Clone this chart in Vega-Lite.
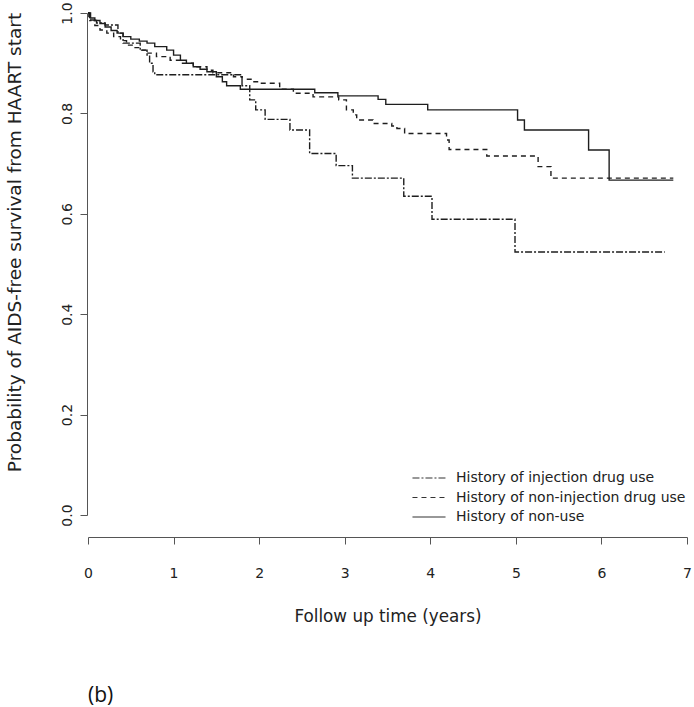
{
  "$schema": "https://vega.github.io/schema/vega-lite/v6.json",
  "width": 599,
  "height": 502,
  "autosize": "none",
  "padding": {"left": 88, "top": 13, "right": 7, "bottom": 192},
  "background": "white",
  "config": {"view": {"stroke": null}, "font": "DejaVu Sans"},
  "title": {"text": "(b)", "orient": "bottom", "anchor": "start", "frame": "group", "offset": 60, "fontSize": 21, "fontWeight": "normal", "font": "Open Sans", "color": "#111"},
  "data": {"values": [
    {"group": "History of injection drug use", "time": 0, "surv": 1.0},
    {"group": "History of injection drug use", "time": 0.02, "surv": 0.985},
    {"group": "History of injection drug use", "time": 0.1, "surv": 0.98},
    {"group": "History of injection drug use", "time": 0.2, "surv": 0.976},
    {"group": "History of injection drug use", "time": 0.35, "surv": 0.96},
    {"group": "History of injection drug use", "time": 0.41, "surv": 0.94},
    {"group": "History of injection drug use", "time": 0.61, "surv": 0.926},
    {"group": "History of injection drug use", "time": 0.69, "surv": 0.916},
    {"group": "History of injection drug use", "time": 0.72, "surv": 0.9},
    {"group": "History of injection drug use", "time": 0.76, "surv": 0.883},
    {"group": "History of injection drug use", "time": 0.78, "surv": 0.877},
    {"group": "History of injection drug use", "time": 1.8, "surv": 0.855},
    {"group": "History of injection drug use", "time": 1.89, "surv": 0.827},
    {"group": "History of injection drug use", "time": 1.96, "surv": 0.807},
    {"group": "History of injection drug use", "time": 2.07, "surv": 0.788},
    {"group": "History of injection drug use", "time": 2.36, "surv": 0.767},
    {"group": "History of injection drug use", "time": 2.59, "surv": 0.72},
    {"group": "History of injection drug use", "time": 2.9, "surv": 0.696},
    {"group": "History of injection drug use", "time": 3.09, "surv": 0.671},
    {"group": "History of injection drug use", "time": 3.69, "surv": 0.635},
    {"group": "History of injection drug use", "time": 4.02, "surv": 0.589},
    {"group": "History of injection drug use", "time": 4.99, "surv": 0.524},
    {"group": "History of injection drug use", "time": 6.74, "surv": 0.524},
    {"group": "History of non-injection drug use", "time": 0, "surv": 1.0},
    {"group": "History of non-injection drug use", "time": 0.01, "surv": 0.986},
    {"group": "History of non-injection drug use", "time": 0.08, "surv": 0.975},
    {"group": "History of non-injection drug use", "time": 0.14, "surv": 0.966},
    {"group": "History of non-injection drug use", "time": 0.22, "surv": 0.96},
    {"group": "History of non-injection drug use", "time": 0.3, "surv": 0.953},
    {"group": "History of non-injection drug use", "time": 0.38, "surv": 0.945},
    {"group": "History of non-injection drug use", "time": 0.45, "surv": 0.936},
    {"group": "History of non-injection drug use", "time": 0.53, "surv": 0.931},
    {"group": "History of non-injection drug use", "time": 0.61, "surv": 0.926},
    {"group": "History of non-injection drug use", "time": 0.69, "surv": 0.92},
    {"group": "History of non-injection drug use", "time": 0.8, "surv": 0.913},
    {"group": "History of non-injection drug use", "time": 0.96, "surv": 0.906},
    {"group": "History of non-injection drug use", "time": 1.08, "surv": 0.9},
    {"group": "History of non-injection drug use", "time": 1.23, "surv": 0.893},
    {"group": "History of non-injection drug use", "time": 1.39, "surv": 0.886},
    {"group": "History of non-injection drug use", "time": 1.46, "surv": 0.881},
    {"group": "History of non-injection drug use", "time": 1.7, "surv": 0.873},
    {"group": "History of non-injection drug use", "time": 1.8, "surv": 0.868},
    {"group": "History of non-injection drug use", "time": 1.93, "surv": 0.863},
    {"group": "History of non-injection drug use", "time": 2.0, "surv": 0.86},
    {"group": "History of non-injection drug use", "time": 2.24, "surv": 0.848},
    {"group": "History of non-injection drug use", "time": 2.4, "surv": 0.84},
    {"group": "History of non-injection drug use", "time": 2.63, "surv": 0.833},
    {"group": "History of non-injection drug use", "time": 2.93, "surv": 0.827},
    {"group": "History of non-injection drug use", "time": 3.02, "surv": 0.807},
    {"group": "History of non-injection drug use", "time": 3.1, "surv": 0.797},
    {"group": "History of non-injection drug use", "time": 3.14, "surv": 0.787},
    {"group": "History of non-injection drug use", "time": 3.33, "surv": 0.78},
    {"group": "History of non-injection drug use", "time": 3.55, "surv": 0.775},
    {"group": "History of non-injection drug use", "time": 3.61, "surv": 0.77},
    {"group": "History of non-injection drug use", "time": 3.7, "surv": 0.76},
    {"group": "History of non-injection drug use", "time": 4.19, "surv": 0.747},
    {"group": "History of non-injection drug use", "time": 4.22, "surv": 0.728},
    {"group": "History of non-injection drug use", "time": 4.66, "surv": 0.715},
    {"group": "History of non-injection drug use", "time": 5.26, "surv": 0.694},
    {"group": "History of non-injection drug use", "time": 5.41, "surv": 0.671},
    {"group": "History of non-injection drug use", "time": 6.84, "surv": 0.671},
    {"group": "History of non-use", "time": 0, "surv": 1.0},
    {"group": "History of non-use", "time": 0.03, "surv": 0.99},
    {"group": "History of non-use", "time": 0.08, "surv": 0.985},
    {"group": "History of non-use", "time": 0.14, "surv": 0.979},
    {"group": "History of non-use", "time": 0.2, "surv": 0.972},
    {"group": "History of non-use", "time": 0.27, "surv": 0.965},
    {"group": "History of non-use", "time": 0.34, "surv": 0.96},
    {"group": "History of non-use", "time": 0.41, "surv": 0.953},
    {"group": "History of non-use", "time": 0.5, "surv": 0.948},
    {"group": "History of non-use", "time": 0.6, "surv": 0.944},
    {"group": "History of non-use", "time": 0.69, "surv": 0.94},
    {"group": "History of non-use", "time": 0.78, "surv": 0.933},
    {"group": "History of non-use", "time": 0.92, "surv": 0.926},
    {"group": "History of non-use", "time": 1.0, "surv": 0.916},
    {"group": "History of non-use", "time": 1.08, "surv": 0.906},
    {"group": "History of non-use", "time": 1.15, "surv": 0.9},
    {"group": "History of non-use", "time": 1.23, "surv": 0.893},
    {"group": "History of non-use", "time": 1.31, "surv": 0.888},
    {"group": "History of non-use", "time": 1.39, "surv": 0.883},
    {"group": "History of non-use", "time": 1.5, "surv": 0.873},
    {"group": "History of non-use", "time": 1.57, "surv": 0.863},
    {"group": "History of non-use", "time": 1.62, "surv": 0.855},
    {"group": "History of non-use", "time": 1.78, "surv": 0.848},
    {"group": "History of non-use", "time": 2.65, "surv": 0.841},
    {"group": "History of non-use", "time": 2.92, "surv": 0.835},
    {"group": "History of non-use", "time": 3.39, "surv": 0.828},
    {"group": "History of non-use", "time": 3.48, "surv": 0.818},
    {"group": "History of non-use", "time": 3.97, "surv": 0.807},
    {"group": "History of non-use", "time": 5.02, "surv": 0.787},
    {"group": "History of non-use", "time": 5.1, "surv": 0.767},
    {"group": "History of non-use", "time": 5.85, "surv": 0.727},
    {"group": "History of non-use", "time": 6.09, "surv": 0.667},
    {"group": "History of non-use", "time": 6.84, "surv": 0.667}
  ]},
  "mark": {"type": "line", "interpolate": "step-after", "strokeWidth": 1.4, "color": "#1e1e1e"},
  "encoding": {
    "x": {
      "field": "time", "type": "quantitative",
      "scale": {"domain": [0, 7], "nice": false, "zero": false},
      "axis": {
        "title": "Follow up time (years)", "values": [0, 1, 2, 3, 4, 5, 6, 7], "format": "d",
        "offset": 22, "grid": false, "tickSize": 7, "labelPadding": 22, "labelFontSize": 14,
        "titleFontSize": 16.8, "titlePadding": 28, "titleFontWeight": "normal",
        "domainColor": "#555", "tickColor": "#555", "labelColor": "#222", "titleColor": "#222",
        "labelFlush": false, "labelOverlap": false, "labelFont": "DejaVu Sans", "titleFont": "DejaVu Sans"
      }
    },
    "y": {
      "field": "surv", "type": "quantitative",
      "scale": {"domain": [0, 1], "nice": false},
      "axis": {
        "title": "Probability of AIDS-free survival from HAART start", "values": [0, 0.2, 0.4, 0.6, 0.8, 1.0], "format": ".1f",
        "offset": 1, "grid": false, "tickSize": 7, "labelPadding": 6, "labelFontSize": 14,
        "labelAngle": -90, "labelAlign": "center", "labelBaseline": "bottom",
        "titleFontSize": 18.5, "titleFontWeight": "normal", "titleX": -63, "titleY": 229,
        "domainColor": "#555", "tickColor": "#555", "labelColor": "#222", "titleColor": "#222",
        "labelFlush": false, "labelOverlap": false, "labelFont": "DejaVu Sans", "titleFont": "DejaVu Sans"
      }
    },
    "strokeDash": {
      "field": "group", "type": "nominal",
      "scale": {
        "domain": ["History of injection drug use", "History of non-injection drug use", "History of non-use"],
        "range": [[7, 2, 2, 2], [5, 4], [1, 0]]
      },
      "legend": {
        "title": null, "orient": "none", "legendX": 331, "legendY": 455,
        "symbolType": "M-1.82,0H1.82", "symbolSize": 330, "symbolStrokeWidth": 1.2, "symbolStrokeColor": "#333",
        "symbolFillColor": "transparent",
        "labelFontSize": 14, "labelColor": "#222", "labelFont": "DejaVu Sans", "labelOffset": 17,
        "rowPadding": 2.5, "labelLimit": 400
      }
    }
  }
}
